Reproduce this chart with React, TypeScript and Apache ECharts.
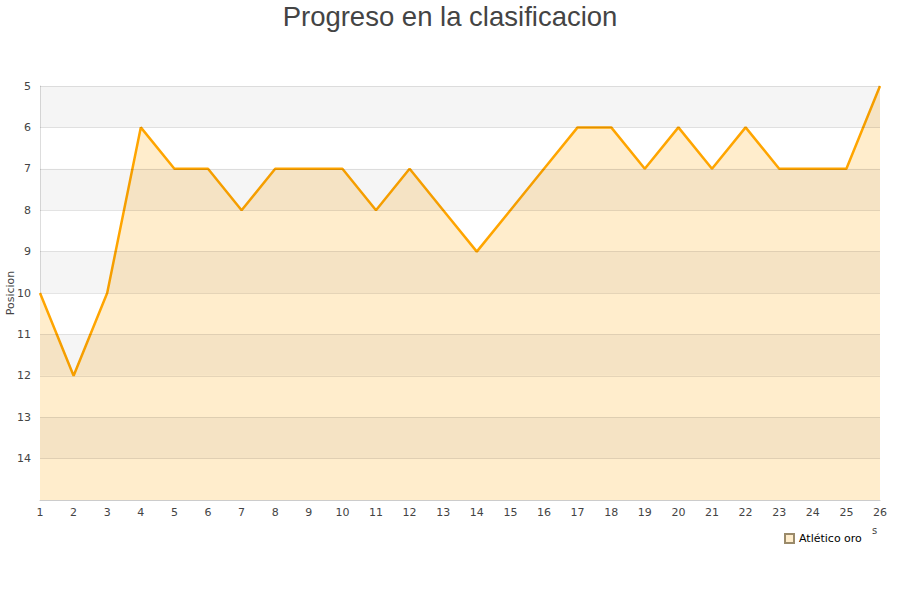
import React, { useEffect, useRef } from "react";
import * as echarts from "echarts";

const jornadas = ["1","2","3","4","5","6","7","8","9","10","11","12","13","14","15","16","17","18","19","20","21","22","23","24","25","26"];
const posiciones = [10, 12, 10, 6, 7, 7, 8, 7, 7, 7, 8, 7, 8, 9, 8, 7, 6, 6, 7, 6, 7, 6, 7, 7, 7, 5];
const bandas = [[5, 6], [7, 8], [9, 10], [11, 12], [13, 14]];
const lineasY = [5, 6, 7, 8, 9, 10, 11, 12, 13, 14];
const seriesName = "Atlético oro";
const titleText = "Progreso en la clasificacion";
const yName = "Posicion";

export default function App() {
  const ref = useRef<HTMLDivElement>(null);
  useEffect(() => {
    if (!ref.current) return;
    const chart = echarts.init(ref.current, undefined, { renderer: "svg" });
    chart.setOption({
      animation: false,
      title: {
        text: titleText,
        left: "center",
        top: -3,
        textStyle: { fontFamily: "Liberation Sans, Arial, sans-serif", fontSize: 27.5, fontWeight: "normal", color: "#444" },
      },
      grid: { left: 40, right: 20, top: 86, bottom: 100, outerBoundsMode: "none", containLabel: false },
      legend: {
        data: [{ name: seriesName, icon: "rect" }],
        left: 779,
        top: 528,
        itemWidth: 9,
        itemHeight: 9,
        itemGap: 6,
        textStyle: { fontFamily: "DejaVu Sans, sans-serif", fontSize: 11, color: "#000" },
      },
      xAxis: {
        type: "category",
        data: jornadas,
        boundaryGap: false,
        axisLine: { lineStyle: { color: "#ccc" } },
        axisTick: { show: false },
        axisLabel: { fontFamily: "DejaVu Sans, sans-serif", fontSize: 11, color: "#444", margin: 7, interval: 0 },
        splitLine: { show: false },
      },
      yAxis: {
        type: "value",
        inverse: true,
        min: 5,
        max: 15,
        interval: 1,
        name: yName,
        nameLocation: "middle",
        nameGap: 24,
        nameMoveOverlap: false,
        nameTextStyle: { fontFamily: "DejaVu Sans, sans-serif", fontSize: 11, color: "#444" },
        axisLine: { show: true, lineStyle: { color: "#ddd" } },
        axisTick: { show: false },
        axisLabel: {
          fontFamily: "DejaVu Sans, sans-serif",
          fontSize: 11,
          color: "#444",
          margin: 9,
          formatter: (v: number) => (v === 15 ? "" : String(v)),
        },
        splitLine: { show: false },
        splitArea: { show: false },
      },
      series: [
        {
          name: seriesName,
          type: "line",
          data: posiciones,
          symbol: "none",
          z: 2,
          lineStyle: { color: "#ffa500", width: 2.5 },
          itemStyle: { color: "#ffedcc", borderColor: "#9a8a6a", borderWidth: 1 },
          areaStyle: { color: "#ffedcc", opacity: 1, origin: "end" },
        },
        {
          name: "bandas",
          type: "custom",
          z: 5,
          silent: true,
          data: bandas,
          renderItem: (params: any, api: any) => {
            const a = api.value(0);
            const b = api.value(1);
            const cs = params.coordSys;
            const p1 = api.coord([0, a]);
            const p2 = api.coord([0, b]);
            const y = Math.min(p1[1], p2[1]);
            return {
              type: "rect",
              shape: { x: cs.x, y, width: cs.width, height: Math.abs(p2[1] - p1[1]) },
              style: { fill: "rgba(0,0,0,0.04)" },
            };
          },
          encode: { x: -1, y: [0, 1] },
          markLine: {
            silent: true,
            symbol: "none",
            label: { show: false },
            lineStyle: { color: "rgba(0,0,0,0.1)", type: "solid", width: 1 },
            data: lineasY.map((v) => ({ yAxis: v })),
          },
        },
      ],
      graphic: [
        {
          type: "text",
          left: 872,
          top: 525,
          style: { text: "s", fontFamily: "DejaVu Sans, sans-serif", fontSize: 10, fill: "#444" },
        },
      ],
    });
    return () => chart.dispose();
  }, []);
  return <div ref={ref} style={{ width: 900, height: 600, position: "absolute", left: 0, top: 0 }} />;
}
